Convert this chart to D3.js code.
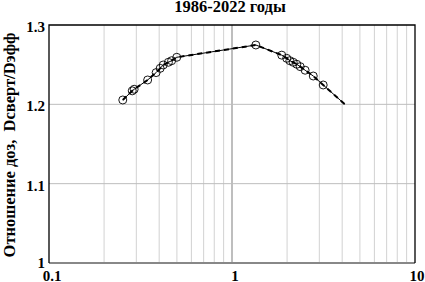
<!DOCTYPE html>
<html>
<head>
<meta charset="utf-8">
<script src="https://cdn.jsdelivr.net/npm/d3@7"></script>
<style>
  body { margin: 0; background: #fff; }
</style>
</head>
<body>
<div id="chart"></div>
<script>
// data
var xVals = [0.253, 0.285, 0.292, 0.346, 0.385, 0.405, 0.421, 0.449, 0.468, 0.499,
             1.35, 1.87, 1.99, 2.07, 2.16, 2.26, 2.36, 2.51, 2.78, 3.15, 4.14];
var yVals = [1.2055, 1.217, 1.219, 1.2307, 1.240, 1.2454, 1.2496, 1.253, 1.255, 1.2593,
             1.2748, 1.262, 1.258, 1.255, 1.253, 1.2505, 1.2475, 1.243, 1.2357, 1.2244, 1.200];
// last point is the line end, no marker
var markerCount = 20;
var yTicks = [1, 1.1, 1.2, 1.3];
var xTicks = [0.1, 1, 10];

var width = 425, height = 282;
var padL = 49, padR = 415, padT = 25, padB = 263;
var serif = "'Liberation Serif', 'DejaVu Serif', 'Times New Roman', serif";

var svg = d3.select("#chart").append("svg")
    .attr("width", width)
    .attr("height", height)
    .style("font-family", serif)
    .style("font-weight", "bold");

var xScale = d3.scaleLog().domain([0.1, 10]).range([padL, padR]);
var yScale = d3.scaleLinear().domain([1, 1.3]).range([padB, padT]);

// grid
var minor = [];
[0.1, 1].forEach(function(d) {
    for (var k = 2; k <= 9; k++) minor.push(d * k);
});
svg.append("g").selectAll("line").data(minor).enter().append("line")
    .attr("x1", function(d) { return xScale(d); })
    .attr("x2", function(d) { return xScale(d); })
    .attr("y1", padT).attr("y2", padB)
    .attr("stroke", "#d2d2d2").attr("stroke-width", 1);

svg.append("line")
    .attr("x1", xScale(1)).attr("x2", xScale(1))
    .attr("y1", padT).attr("y2", padB)
    .attr("stroke", "#a8a8a8").attr("stroke-width", 1.5);

svg.append("g").selectAll("line").data([1.1, 1.2]).enter().append("line")
    .attr("x1", padL).attr("x2", padR)
    .attr("y1", function(d) { return yScale(d); })
    .attr("y2", function(d) { return yScale(d); })
    .attr("stroke", "#bdbdbd").attr("stroke-width", 1);

// frame
svg.append("line").attr("x1", padL).attr("x2", padR)
    .attr("y1", padB).attr("y2", padB)
    .attr("stroke", "#888").attr("stroke-width", 2);
svg.append("path")
    .attr("d", "M" + padL + "," + padB + "V" + padT + "H" + padR + "V" + padB)
    .attr("fill", "none").attr("stroke", "#000").attr("stroke-width", 1.3);

// line
var pts = xVals.map(function(x, i) { return [x, yVals[i]]; });
var line = d3.line()
    .x(function(d) { return xScale(d[0]); })
    .y(function(d) { return yScale(d[1]); });

svg.append("path").datum(pts).attr("d", line)
    .attr("fill", "none").attr("stroke", "#000").attr("stroke-width", 1);
svg.append("path").datum(pts).attr("d", line)
    .attr("fill", "none").attr("stroke", "#000").attr("stroke-width", 2)
    .attr("stroke-dasharray", "5,4");

// markers
svg.append("g").selectAll("circle").data(pts.slice(0, markerCount)).enter().append("circle")
    .attr("cx", function(d) { return xScale(d[0]); })
    .attr("cy", function(d) { return yScale(d[1]); })
    .attr("r", 4)
    .attr("fill", "none").attr("stroke", "#000").attr("stroke-width", 0.9);

// tick labels
svg.append("g").selectAll("text").data(yTicks).enter().append("text")
    .attr("x", 45)
    .attr("y", function(d) { return d === 1 ? yScale(d) + 5 : yScale(d) + 7; })
    .attr("text-anchor", "end")
    .attr("font-size", 15)
    .text(function(d) { return d; });

svg.append("g").selectAll("text").data(xTicks).enter().append("text")
    .attr("x", function(d) { return d === 10 ? xScale(d) + 2 : xScale(d) + 3; })
    .attr("y", 281)
    .attr("text-anchor", "middle")
    .attr("font-size", 15)
    .text(function(d) { return d; });

// title
svg.append("text")
    .attr("x", 230).attr("y", 12)
    .attr("text-anchor", "middle")
    .attr("font-size", 16.5)
    .text("1986-2022 годы");

svg.append("text")
    .attr("transform", "translate(15,145) rotate(-90)")
    .attr("text-anchor", "middle")
    .attr("font-size", 16.5)
    .attr("xml:space", "preserve")
    .text("Отношение доз,  Dсверт/Dэфф");
</script>
</body>
</html>
